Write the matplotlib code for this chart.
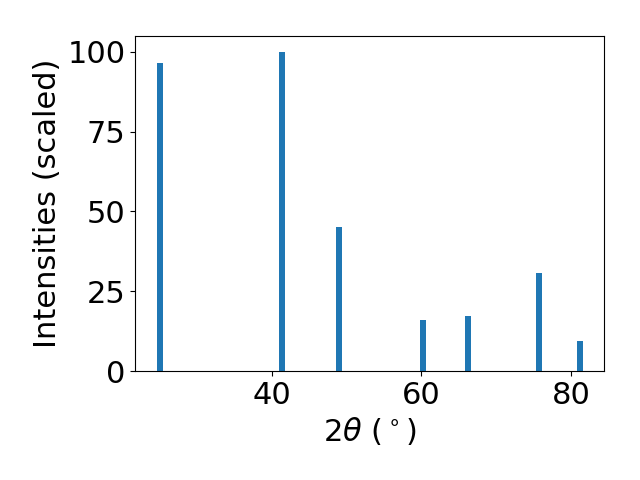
import matplotlib
matplotlib.use('Agg')
import matplotlib.pyplot as plt

# peak positions (2theta, degrees) and scaled intensities
two_theta = [25.0, 41.4, 49.05, 60.17, 66.2, 75.7, 81.2]
intensities = [96.6, 100.0, 45.2, 16.0, 17.3, 30.75, 9.4]

plt.rcParams['font.size'] = 22

fig, ax = plt.subplots(figsize=(6.4, 4.8), dpi=100)
ax.bar(two_theta, intensities, width=0.8, color='tab:blue')
ax.set_xlabel(r'2$\theta$ ($^\circ$)')
ax.set_ylabel('Intensities (scaled)')
ax.set_yticks([0, 25, 50, 75, 100])
ax.set_xticks([40, 60, 80])

fig.subplots_adjust(left=0.2114, right=0.944, bottom=0.227, top=0.925)
fig.savefig('out.png', dpi=100)
